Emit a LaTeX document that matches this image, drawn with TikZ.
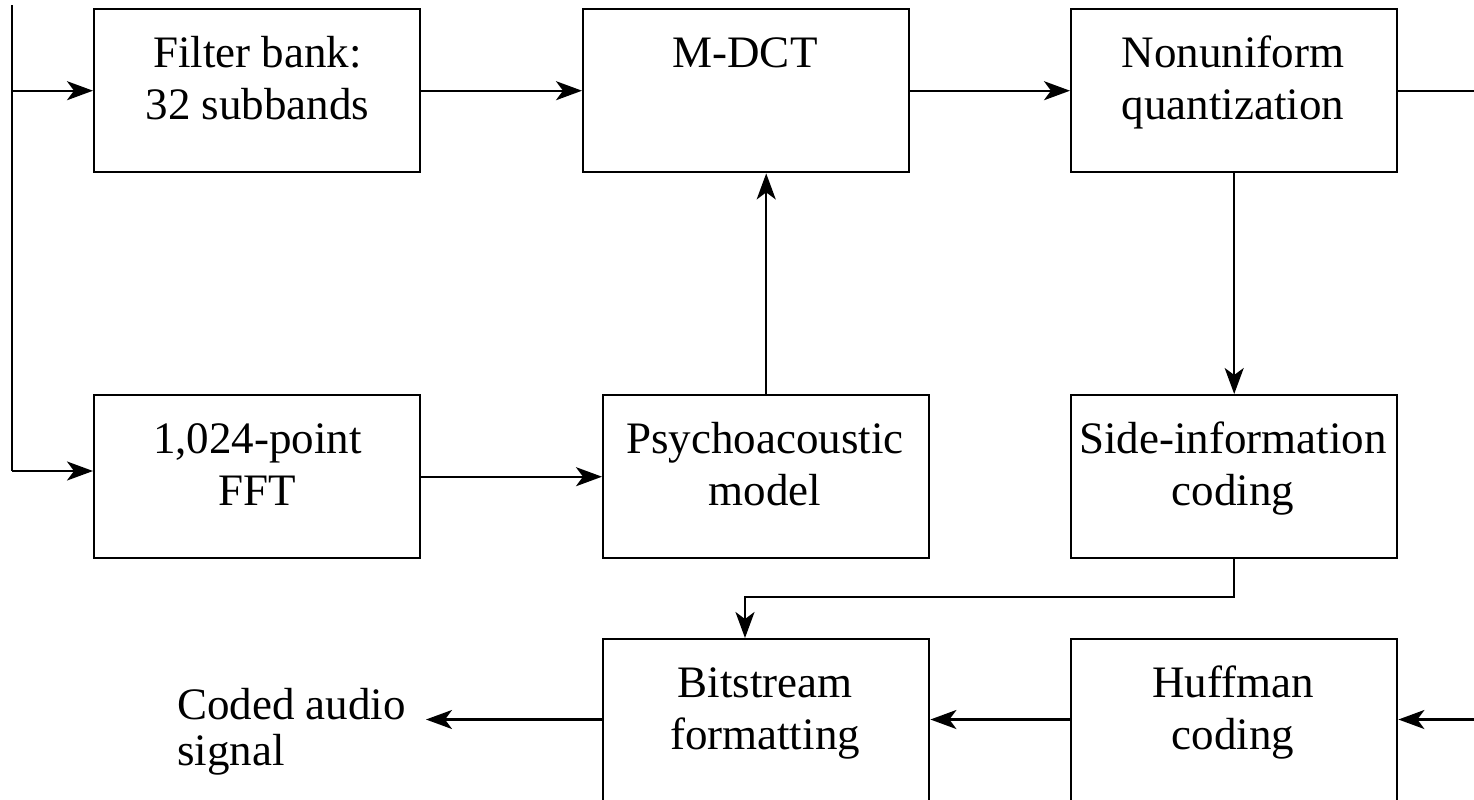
\documentclass[tikz,border=0pt]{standalone}
\usepackage{fontspec}
\setmainfont{Liberation Serif}
\usetikzlibrary{arrows.meta}
\newcommand\mlines[1]{\begin{tabular}[t]{@{}c@{}}#1\end{tabular}}
\newcommand\llines[1]{\begin{tabular}[t]{@{}l@{}}#1\end{tabular}}
\begin{document}
\begin{tikzpicture}[x=0.5pt,y=-0.5pt,
  line width=1.2pt,
  blk/.style={draw, rectangle, inner sep=0pt, minimum width=163pt, minimum height=81.5pt, anchor=north west},
  lbl/.style={inner sep=0pt, anchor=base, font=\fontsize{22.5}{26}\selectfont},
  arr/.style={-{Stealth[length=13pt,width=9.5pt,inset=3.5pt]}}]
\useasboundingbox (0,0) rectangle (1474,799);
% boxes
\node[blk] (fb)  at (93,8) {};
\node[blk] (mdct) at (582,8) {};
\node[blk] (nq)  at (1070,8) {};
\node[blk] (fft) at (93,394) {};
\node[blk] (psy) at (602,394) {};
\node[blk] (side) at (1070,394) {};
\node[blk] (bit) at (602,638) {};
\node[blk] (huf) at (1070,638) {};
% labels
\node[lbl] (fbt)   at (257.5,67) {\mlines{Filter bank:\\32 subbands}};
\node[lbl] (mdctt) at (745,67) {\mlines{M-DCT}};
\node[lbl] (nqt)   at (1233,67) {\mlines{Nonuniform\\quantization}};
\node[lbl] (fftt)  at (257.5,453) {\mlines{1,024-point\\FFT}};
\node[lbl] (psyt)  at (765,453) {\mlines{Psychoacoustic\\model}};
\node[lbl] (sidet) at (1233,453) {\mlines{Side-information\\coding}};
\node[lbl] (bitt)  at (765,697) {\mlines{Bitstream\\formatting}};
\node[lbl] (huft)  at (1233,697) {\mlines{Huffman\\coding}};
\node[inner sep=0pt, anchor=base west, font=\fontsize{22.5}{23}\selectfont] (out) at (176,719) {\llines{Coded audio\\signal}};
% coordinates
\coordinate (intop) at (12,5);
\coordinate (inbot) at (12,471);
\coordinate (nqout) at (1474,89);
\coordinate (hufin) at (1474,719.5);
\coordinate (outend) at (426,719.5);
\coordinate (sb) at (745,597);
% connectors
\draw (intop) -- (inbot);
\draw[arr] (inbot) -- (fft.west |- inbot);
\draw[arr] (intop |- fb.west) -- (fb.west);
\draw[arr] (fb.east) -- (mdct.west);
\draw[arr] (mdct.east) -- (nq.west);
\draw (nq.east) -- (nq.east -| nqout);
\draw[arr] (fft.east) -- (psy.west);
\draw[arr] (psy.north) -- (psy.north |- mdct.south);
\draw[arr] (nq.south) -- (side.north);
\draw[arr] (side.south) |- (sb) -- (sb |- bit.north);
\draw[arr] (hufin) -- (huf.east |- hufin);
\draw[arr] (huf.west |- hufin) -- (bit.east |- hufin);
\draw[arr] (bit.west |- hufin) -- (outend);
\end{tikzpicture}
\end{document}
